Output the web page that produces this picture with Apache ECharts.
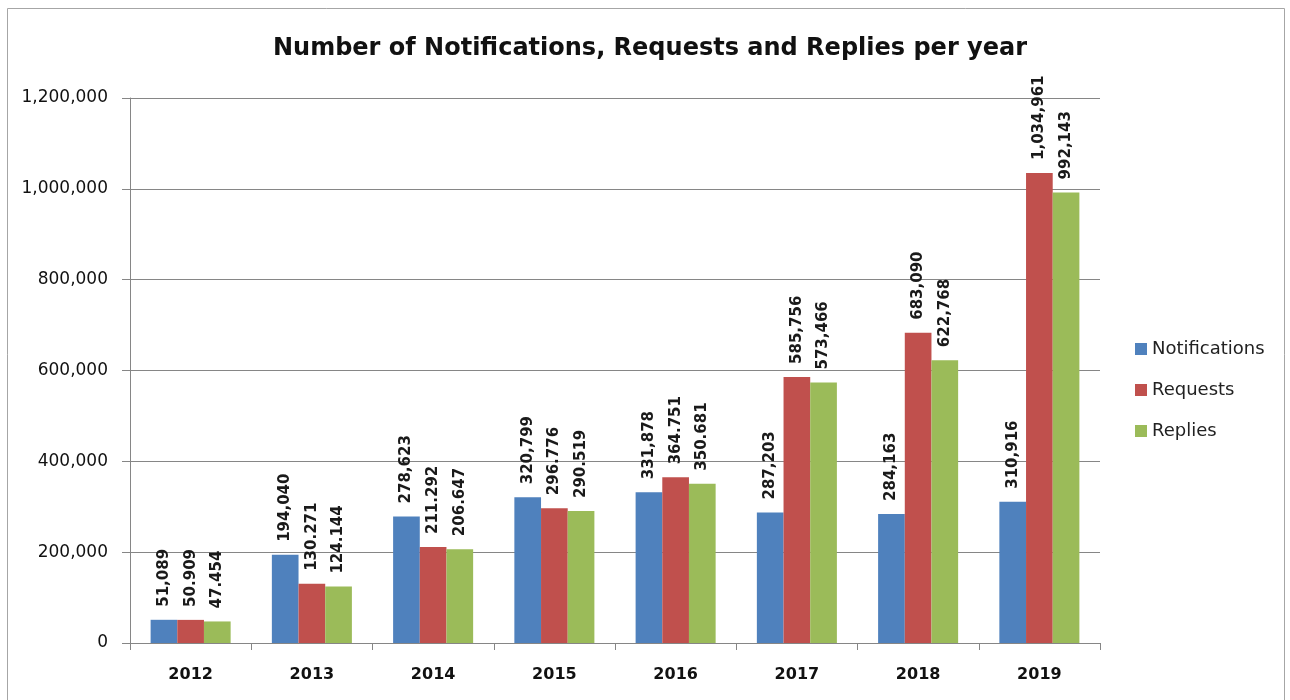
<!DOCTYPE html>
<html>
<head>
<meta charset="utf-8">
<script src="https://cdn.jsdelivr.net/npm/echarts@6/dist/echarts.min.js"></script>
<style>html,body{margin:0;padding:0;background:#fff;}#c{width:1290px;height:700px;}</style>
</head>
<body>
<div id="c"></div>
<script>
const categories = ['2012','2013','2014','2015','2016','2017','2018','2019'];
const notifications = [51089, 194040, 278623, 320799, 331878, 287203, 284163, 310916];
const requests = [50909, 130271, 211292, 296776, 364751, 585756, 683090, 1034961];
const replies = [47454, 124144, 206647, 290519, 350681, 573466, 622768, 992143];
const notificationLabels = ['51,089','194,040','278,623','320,799','331,878','287,203','284,163','310,916'];
const requestLabels = ['50.909','130.271','211.292','296.776','364.751','585,756','683,090','1,034,961'];
const replyLabels = ['47.454','124.144','206.647','290.519','350.681','573,466','622,768','992,143'];
const yTicks = [0, 200000, 400000, 600000, 800000, 1000000, 1200000];

const chart = echarts.init(document.getElementById('c'));
function lbl(texts){
  return {
    show: true, position: 'top', rotate: 90, align: 'left', verticalAlign: 'middle',
    distance: 13, fontFamily: 'DejaVu Sans', fontWeight: 'bold', fontSize: 15, color: '#1a1a1a',
    formatter: p => texts[p.dataIndex]
  };
}
chart.setOption({
  animation: false,
  title: {
    text: 'Number of Notifications, Requests and Replies per year',
    left: 645, textAlign: 'center', top: 32,
    textStyle: {fontFamily: 'DejaVu Sans', fontWeight: 'bold', fontSize: 24, color: '#111'}
  },
  graphic: [{type: 'rect', shape: {x: 7.5, y: 8.5, width: 1277, height: 720}, style: {fill: 'none', stroke: '#a6a6a6', lineWidth: 1}}],
  legend: {
    orient: 'vertical', left: 1130, top: 335, itemWidth: 12, itemHeight: 12, itemGap: 23,
    textStyle: {fontFamily: 'DejaVu Sans', fontSize: 18, color: '#222'},
    icon: 'rect',
    data: ['Notifications','Requests','Replies']
  },
  grid: {left: 130, right: 190, top: 98, bottom: 57},
  xAxis: {
    type: 'category', data: categories,
    axisLine: {lineStyle: {color: '#868686'}},
    axisTick: {show: true, length: 7, lineStyle: {color: '#868686'}},
    axisLabel: {fontFamily: 'DejaVu Sans', fontWeight: 'bold', fontSize: 16, color: '#111', margin: 24}
  },
  yAxis: {
    type: 'value', min: yTicks[0], max: yTicks[yTicks.length-1], interval: 200000,
    axisLine: {show: true, lineStyle: {color: '#868686'}},
    axisTick: {show: true, length: 8, lineStyle: {color: '#868686'}},
    splitLine: {lineStyle: {color: '#868686'}},
    axisLabel: {fontFamily: 'DejaVu Sans', fontSize: 17, color: '#111', margin: 22,
      formatter: v => v.toLocaleString('en-US')}
  },
  series: [
    {name: 'Notifications', type: 'bar', data: notifications, barGap: '0%', barCategoryGap: '34%',
     itemStyle: {color: '#4F81BD'}, label: lbl(notificationLabels)},
    {name: 'Requests', type: 'bar', data: requests, itemStyle: {color: '#C0504D'}, label: lbl(requestLabels)},
    {name: 'Replies', type: 'bar', data: replies, itemStyle: {color: '#9BBB59'}, label: lbl(replyLabels)}
  ]
});
</script>
</body>
</html>
